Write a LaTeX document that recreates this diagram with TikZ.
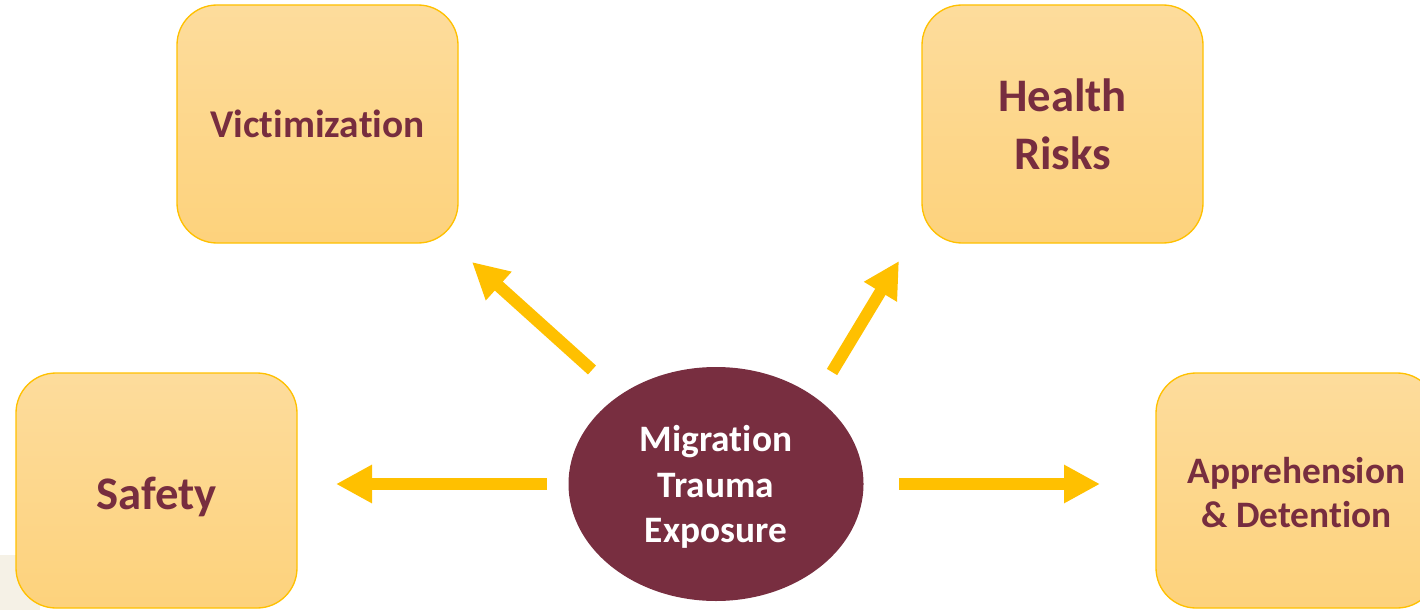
\documentclass[tikz,border=0pt]{standalone}
\usepackage{fontspec}
\setmainfont{Carlito}[Ligatures=NoCommon]
\usetikzlibrary{arrows.meta,shapes.geometric}
\definecolor{txtmaroon}{HTML}{772D3F}
\definecolor{ellfill}{HTML}{782E40}
\definecolor{boxtop}{HTML}{FDDC9C}
\definecolor{boxbot}{HTML}{FDD27C}
\definecolor{boxline}{HTML}{FFC000}
\definecolor{arrowcol}{HTML}{FFC000}
\definecolor{bgbeige}{HTML}{F5F1E6}
\newcommand{\lowerby}[2]{\raisebox{0pt}[\dimexpr\height+#1\relax][\depth]{#2}}
\tikzset{
  boxnode/.style={draw=boxline, line width=1pt, rounded corners=30pt,
    top color=boxtop, bottom color=boxbot,
    minimum width=210.75pt, minimum height=178.5pt, inner sep=0pt,
    text=txtmaroon, align=center},
  bigtext/.style={font=\bfseries\fontsize{35}{43.5}\selectfont},
  midtext/.style={font=\bfseries\fontsize{29.5}{36}\selectfont},
  smalltext/.style={font=\bfseries\fontsize{28}{33}\selectfont},
  centernode/.style={ellipse, fill=ellfill, draw=none,
    minimum width=221.25pt, minimum height=175.5pt, inner sep=0pt,
    text=white, align=center, font=\bfseries\fontsize{28}{34}\selectfont},
  blockarrow/.style={draw=arrowcol, line width=9pt,
    -{Triangle[width=27pt,length=27pt]}}
}
\begin{document}
\begin{tikzpicture}[x=0.75pt,y=-0.75pt]
\useasboundingbox (0,0) rectangle (1420,610);
\fill[bgbeige] (0,555) rectangle (40,610);
\node[boxnode, midtext] (vic) at (317.5,124) {Victimization};
\node[boxnode, bigtext] (health) at (1062.5,124) {Health\\Risks};
\node[boxnode, bigtext, minimum height=176.25pt] (safety) at (156.5,490.5) {\lowerby{9pt}{Safety}};
\node[boxnode, smalltext, minimum height=176.25pt] (appr) at (1296.5,490.5) {\lowerby{9pt}{\begin{tabular}{@{}c@{}}Apprehension\\\& Detention\end{tabular}}};
\node[centernode] (mig) at (716,484) {\lowerby{6pt}{\begin{tabular}{@{}c@{}}Migration\\Trauma\\Exposure\end{tabular}}};
\coordinate (a1t) at (592,370);
\coordinate (a1h) at (472,262);
\coordinate (a2t) at (832,372);
\coordinate (a2h) at (899,261);
\coordinate (a3t) at (547,484);
\coordinate (a3h) at (336,484);
\coordinate (a4t) at (899,484);
\coordinate (a4h) at (1100,484);
\draw[blockarrow] (a1t) -- (a1h);
\draw[blockarrow] (a2t) -- (a2h);
\draw[blockarrow] (a3t) -- (a3h);
\draw[blockarrow] (a4t) -- (a4h);
\end{tikzpicture}
\end{document}
